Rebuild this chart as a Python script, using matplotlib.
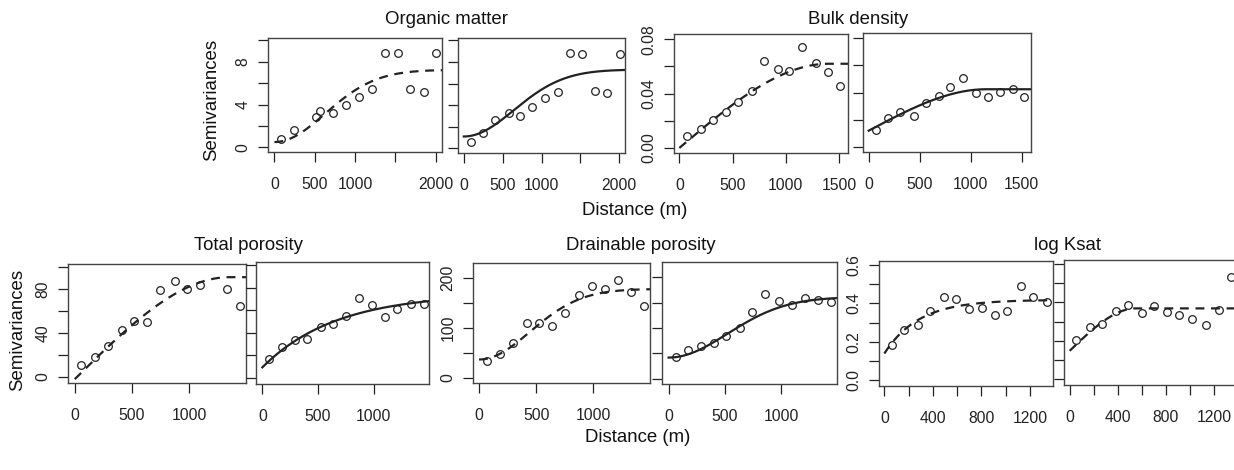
import matplotlib.pyplot as plt
import numpy as np

plt.rcParams['font.family'] = ['Liberation Sans', 'DejaVu Sans']

om_izq_x = [83, 242, 521, 562, 721, 887, 1050, 1208, 1367, 1529, 1687, 1854, 2008]
om_izq_y = [0.78, 1.64, 2.82, 3.44, 3.19, 3.97, 4.74, 5.43, 8.87, 8.84, 5.43, 5.15, 8.84]
om_der_x = [94, 248, 397, 577, 726, 876, 1047, 1209, 1368, 1526, 1688, 1846, 2009]
om_der_y = [0.56, 1.43, 2.67, 3.29, 2.98, 3.88, 4.65, 5.27, 8.84, 8.78, 5.36, 5.12, 8.71]

bd_izq_x = [68, 199, 317, 435, 553, 680, 792, 922, 1031, 1149, 1283, 1398, 1512]
bd_izq_y = [0.0091, 0.0142, 0.0204, 0.0263, 0.0336, 0.0422, 0.0643, 0.0584, 0.0564,
            0.0741, 0.0626, 0.0559, 0.0459]
bd_der_x = [72, 186, 310, 441, 565, 686, 801, 922, 1052, 1170, 1291, 1415, 1526]
bd_der_y = [0.0123, 0.0210, 0.0254, 0.0227, 0.0321, 0.0378, 0.0444, 0.0506, 0.0395,
            0.0370, 0.0402, 0.0427, 0.0370]

tp_izq_x = [53, 174, 294, 412, 521, 632, 747, 871, 979, 1097, 1329, 1444]
tp_izq_y = [10.7, 18.3, 28.1, 42.7, 51.0, 50.1, 79.4, 87.6, 80.3, 84.0, 80.0, 64.7]
tp_der_x = [57, 175, 290, 405, 523, 637, 749, 864, 985, 1103, 1211, 1332, 1450]
tp_der_y = [16.4, 27.2, 33.7, 34.9, 44.8, 48.1, 55.2, 71.0, 64.8, 53.7, 61.2, 66.0, 66.0]

dp_izq_x = [73, 187, 298, 421, 523, 643, 751, 871, 991, 1105, 1219, 1327, 1444]
dp_izq_y = [33.6, 47.7, 69.1, 110.7, 109.4, 104.0, 129.5, 165.1, 183.2, 178.5, 196.6,
            171.8, 144.3]
dp_der_x = [65, 169, 288, 401, 513, 632, 742, 861, 979, 1098, 1217, 1329, 1445]
dp_der_y = [44, 56, 64, 70, 85, 101, 132, 167, 154, 146, 159, 155, 151]

ks_izq_x = [66, 164, 274, 378, 493, 589, 699, 805, 915, 1014, 1123, 1227, 1340]
ks_izq_y = [0.183, 0.264, 0.289, 0.360, 0.431, 0.421, 0.370, 0.376, 0.341, 0.358,
            0.490, 0.435, 0.409]
ks_der_x = [56, 172, 269, 381, 486, 597, 703, 806, 911, 1019, 1133, 1236, 1342]
ks_der_y = [0.205, 0.273, 0.287, 0.353, 0.386, 0.344, 0.379, 0.348, 0.334, 0.313,
            0.282, 0.362, 0.530]

# Modelos ajustados: (tipo, pepita, meseta parcial, alcance)
om_izq_mod = ("gau", 0.5, 6.75, 890)
om_der_mod = ("gau", 1.1, 6.2, 910)
bd_izq_mod = ("sph", 0.0, 0.062, 1400)
bd_der_mod = ("sph", 0.012, 0.0305, 1150)
tp_izq_mod = ("sph", -2.0, 93, 1350)
tp_der_mod = ("exp", 9.3, 65.8, 662)
dp_izq_mod = ("gau", 37, 141, 631)
dp_der_mod = ("gau", 42, 119, 740)
ks_izq_mod = ("exp", 0.139, 0.28, 283)
ks_der_mod = ("sph", 0.148, 0.221, 550)


def vgm(h, mod):
    tipo, c0, c, a = mod
    if tipo == "gau":
        return c0 + c * (1 - np.exp(-(h / a) ** 2))
    if tipo == "exp":
        return c0 + c * (1 - np.exp(-h / a))
    r = np.minimum(h / a, 1.0)
    return c0 + c * (1.5 * r - 0.5 * r ** 3)


fig = plt.figure(figsize=(12.34, 4.70), dpi=100)
W, H = 1234, 470
gris = "#444444"


def panel(px, py, pw, ph, xs, ys, mod, estilo, xlim, ylim, xt, xtl, yt, ytl):
    ax = fig.add_axes([px / W, 1 - (py + ph) / H, pw / W, ph / H])
    h = np.linspace(0, xlim[1], 300)
    ax.plot(h, vgm(h, mod), color="#222222", lw=1.6, linestyle=estilo,
            dashes=(4, 3) if estilo == "--" else (None, None))
    ax.plot(xs, ys, "o", mfc="none", mec="#222222", ms=5.5, mew=0.9)
    ax.set_xlim(xlim)
    ax.set_ylim(ylim)
    ax.set_xticks(xt)
    ax.set_xticklabels(xtl)
    ax.set_yticks(yt)
    ax.set_yticklabels(ytl, rotation=90, va="center")
    ax.tick_params(direction="out", length=7.5, width=0.9, colors="#222222",
                   labelsize=11.3, pad=10.5)
    ax.tick_params(axis="y", pad=5)
    for s in ax.spines.values():
        s.set_color(gris)
        s.set_linewidth(1.0)
    return ax


# fila superior
om_xt = [0, 500, 1000, 1500, 2000]
om_xtl = ["0", "500", "1000", "", "2000"]
om_yt = [0, 2, 4, 6, 8, 10]
om_ylim = (-0.43, 10.23)
panel(268, 38, 174, 114, om_izq_x, om_izq_y, om_izq_mod, "--", (-80, 2080), om_ylim,
      om_xt, om_xtl, om_yt, ["0", "", "4", "", "8", ""])
panel(458, 38, 167, 115, om_der_x, om_der_y, om_der_mod, "-", (-75, 2075), om_ylim,
      om_xt, om_xtl, om_yt, [""] * 6)

bd_xt = [0, 500, 1000, 1500]
bd_xtl = ["0", "500", "1000", "1500"]
bd_yt = [0, 0.02, 0.04, 0.06, 0.08]
bd_ylim = (-0.0037, 0.0839)
panel(674, 34, 174, 119, bd_izq_x, bd_izq_y, bd_izq_mod, "--", (-50, 1584), bd_ylim,
      bd_xt, bd_xtl, bd_yt, ["0.00", "", "0.04", "", "0.08"])
panel(863, 33, 168, 119, bd_der_x, bd_der_y, bd_der_mod, "-", (-56, 1592), bd_ylim,
      bd_xt, bd_xtl, bd_yt, [""] * 5)

# fila inferior
tp_xt = [0, 500, 1000]
tp_xtl = ["0", "500", "1000"]
tp_yt = [0, 20, 40, 60, 80, 100]
tp_ylim = (-5.5, 103)
panel(68, 264, 178, 119, tp_izq_x, tp_izq_y, tp_izq_mod, "--", (-59, 1495), tp_ylim,
      tp_xt, tp_xtl, tp_yt, ["0", "", "40", "", "80", ""])
panel(256, 262, 173, 122, tp_der_x, tp_der_y, tp_der_mod, "-", (-57, 1495), tp_ylim,
      tp_xt, tp_xtl, tp_yt, [""] * 6)

dp_yt = [0, 50, 100, 150, 200]
dp_ylim = (-10, 230)
panel(473, 263, 177, 120, dp_izq_x, dp_izq_y, dp_izq_mod, "--", (-53, 1497), dp_ylim,
      tp_xt, tp_xtl, dp_yt, ["0", "", "100", "", "200"])
panel(662, 262, 175, 122, dp_der_x, dp_der_y, dp_der_mod, "-", (-59, 1499), dp_ylim,
      tp_xt, tp_xtl, dp_yt, [""] * 5)

ks_xt = [0, 200, 400, 600, 800, 1000, 1200]
ks_xtl = ["0", "", "400", "", "800", "", "1200"]
ks_yt = [0, 0.1, 0.2, 0.3, 0.4, 0.5, 0.6]
ks_ylim = (-0.030, 0.621)
panel(879, 261, 174, 125, ks_izq_x, ks_izq_y, ks_izq_mod, "--", (-44, 1389), ks_ylim,
      ks_xt, ks_xtl, ks_yt, ["0.0", "", "0.2", "", "0.4", "", "0.6"])
panel(1064, 260, 175, 125, ks_der_x, ks_der_y, ks_der_mod, "--", (-47, 1406), ks_ylim,
      ks_xt, ks_xtl, ks_yt, [""] * 7)

# titulos y etiquetas
tc = "#111111"
fig.text(446 / W, 1 - 20 / H, "Organic matter", ha="center", va="center", fontsize=13.4, color=tc)
fig.text(858 / W, 1 - 20 / H, "Bulk density", ha="center", va="center", fontsize=13.4, color=tc)
fig.text(248 / W, 1 - 246 / H, "Total porosity", ha="center", va="center", fontsize=13.4, color=tc)
fig.text(641 / W, 1 - 246 / H, "Drainable porosity", ha="center", va="center", fontsize=13.4, color=tc)
fig.text(1067 / W, 1 - 246 / H, "log Ksat", ha="center", va="center", fontsize=13.4, color=tc)

fig.text(212 / W, 1 - 100 / H, "Semivariances", rotation=90, ha="center", va="center",
         fontsize=13.4, color=tc)
fig.text(18 / W, 1 - 330 / H, "Semivariances", rotation=90, ha="center", va="center",
         fontsize=13.4, color=tc)
fig.text(635 / W, 1 - 211 / H, "Distance (m)", ha="center", va="center", fontsize=13.4, color=tc)
fig.text(638 / W, 1 - 438 / H, "Distance (m)", ha="center", va="center", fontsize=13.4, color=tc)

fig.savefig("out.png", dpi=100)
